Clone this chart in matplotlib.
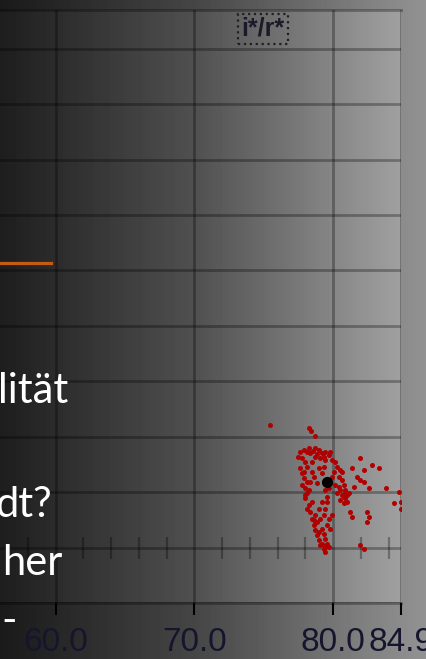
import numpy as np
import matplotlib
matplotlib.use("Agg")
import matplotlib.pyplot as plt
from matplotlib.lines import Line2D

# scatter cloud (i*/r* against x)
cloud_x = [75.43, 78.24, 78.43, 78.67,
           77.63, 77.88, 78.12, 77.51, 77.75, 78.00, 78.36, 78.72, 78.96, 79.20, 79.45,
           79.69, 79.93, 80.17, 78.72, 79.08, 79.45, 78.48, 78.12, 80.29, 80.53, 80.65,
           77.63, 77.75, 77.88, 77.75, 78.00, 78.12, 78.36, 78.48, 78.60, 78.84, 78.96,
           79.20, 79.32, 79.45, 79.57, 79.69, 79.81, 79.93, 80.05, 80.41, 80.65, 80.77,
           80.89, 80.65, 80.89, 81.02, 80.77, 80.53, 80.29, 80.41, 81.14, 80.12,
           81.38, 81.98, 82.22, 82.83, 83.31, 81.74, 81.98, 82.22, 81.50, 82.59, 83.79,
           84.76, 84.40, 84.88, 84.88, 81.26, 81.38, 82.46, 82.59, 82.46, 81.98, 82.22,
           78.00, 78.24, 78.36, 78.48, 78.60, 78.72, 78.84, 78.96, 79.08, 79.32, 79.45,
           78.84, 79.08, 79.32, 79.45, 79.57, 79.20, 79.32, 79.45, 79.57, 79.69, 79.81,
           79.69, 79.20, 78.96, 78.72, 78.48, 78.12, 79.57, 79.93,
           78.24, 78.53, 78.84, 79.32, 79.81, 77.88, 78.12, 78.24, 77.95,
           80.77, 81.02, 80.89, 80.53, 79.20, 79.45, 78.96, 78.60]
cloud_y = [2.22, 2.15, 2.10, 2.02,
           1.73, 1.76, 1.73, 1.64, 1.61, 1.55, 1.70, 1.79, 1.76, 1.70, 1.73,
           1.67, 1.58, 1.55, 1.64, 1.61, 1.58, 1.55, 1.46, 1.46, 1.40, 1.37,
           1.43, 1.34, 1.25, 1.13, 1.07, 0.98, 1.19, 1.37, 1.28, 1.16, 1.43,
           1.34, 1.46, 1.04, 0.92, 1.07, 1.16, 1.28, 1.37, 1.28, 1.22, 1.13,
           1.04, 0.95, 0.89, 0.83, 0.80, 0.86, 0.98, 1.10, 0.98, 1.13,
           1.43, 1.61, 1.40, 1.49, 1.43, 1.28, 1.22, 1.19, 1.10, 1.07, 1.07,
           1.01, 0.80, 0.83, 0.70, 0.64, 0.55, 0.64, 0.55, 0.46, 0.04, -0.02,
           0.89, 0.76, 0.64, 0.52, 0.40, 0.31, 0.22, 0.13, 0.04, -0.02, -0.08,
           0.46, 0.52, 0.58, 0.70, 0.83, 0.34, 0.25, 0.16, 0.07, 0.01, 0.34,
           0.52, 0.83, 0.70, 0.58, 0.83, 0.70, 0.40, 0.58,
           1.80, 1.74, 1.68, 1.64, 1.73, 1.37, 1.19, 1.04, 0.95,
           0.92, 0.95, 0.98, 1.04, 0.07, 0.01, 0.28, 0.49]
mean_x = [79.57]
mean_y = [1.19]

x_ticks = [60.0, 70.0, 80.0, 84.9]
x_minor = [58, 62, 64, 66, 68, 72, 74, 76, 78, 82, 84]
y_grid = list(range(-1, 10))
x_range = (56.0, 84.9)
y_range = (-1.0, 9.7)

# slide text fragments that sit over the plot
slide_lines = ["lität", "dt?", "her", "-"]

W, H = 427, 659


def shade(px):
    # brightness of the darkened slide across the width
    return np.interp(px, [0, 55, 194, 267, 367, 401, 427],
                     [30, 44, 80, 108, 148, 160, 168])


fig = plt.figure(figsize=(W / 100, H / 100), dpi=100)

bg = fig.add_axes([0, 0, 1, 1], zorder=0)
bg.imshow(shade(np.arange(W))[None, :] * 0.87, cmap="gray", vmin=0, vmax=255,
          aspect="auto", extent=[0, 1, 0, 1])
bg.set_axis_off()

ax = fig.add_axes([0, 56 / H, 401 / W, 593 / H], zorder=1)
ax.imshow(shade(np.arange(401))[None, :], cmap="gray", vmin=0, vmax=255,
          aspect="auto", extent=[0, 1, 0, 1], transform=ax.transAxes, zorder=0)
ax.set_xlim(*x_range)
ax.set_ylim(*y_range)

grid_col = (0, 0, 0, 0.3)
ax.set_xticks(x_ticks)
ax.set_xticklabels([f"{v:.1f}" for v in x_ticks], fontsize=24,
                   family="Liberation Sans", color="#15152e")
ax.set_yticks(y_grid)
ax.grid(True, color="black", alpha=0.3, lw=2.0, zorder=1)
ax.tick_params(axis="x", direction="out", length=8.5, width=1.5, color="black", pad=9)
ax.tick_params(axis="y", left=False, labelleft=False)
for side in ["left", "right"]:
    ax.spines[side].set_visible(False)
for side in ["top", "bottom"]:
    ax.spines[side].set_color(grid_col)
    ax.spines[side].set_linewidth(2.0)

# inner axis at y = 0 with its minor ticks
sec = ax.secondary_xaxis((0 - y_range[0]) / (y_range[1] - y_range[0]))
sec.set_xticks(x_minor)
sec.tick_params(direction="inout", length=16, width=1.6, color=grid_col,
                labelbottom=False, labeltop=False)
for sp in sec.spines.values():
    sp.set_visible(False)

ax.scatter(cloud_x, cloud_y, s=13, marker="o", color="#b00000", lw=0, zorder=3)
ax.scatter(mean_x, mean_y, s=65, color="black", lw=0, zorder=4)

ax.text(0.656, 0.968, "i*/r*", transform=ax.transAxes, ha="center", va="center",
        fontsize=18, fontweight="bold", family="Liberation Sans", color="#1a1a2a",
        bbox=dict(boxstyle="square,pad=0.12", fc="none", ec="#202020", ls=":", lw=1.6))

# white slide text and the orange rule
positions = [(68, 403), (52, 517), (63, 575), (17, 633)]
for txt, (px, py) in zip(slide_lines, positions):
    fig.text(px / W, (H - py) / H, txt, ha="right", va="baseline", fontsize=30,
             family="Lato", color="white", zorder=5)
fig.add_artist(Line2D([0, 51 / W], [(H - 263) / H] * 2, color="#c65a11", lw=2.3,
                      zorder=5))

fig.savefig("out.png", dpi=100)
